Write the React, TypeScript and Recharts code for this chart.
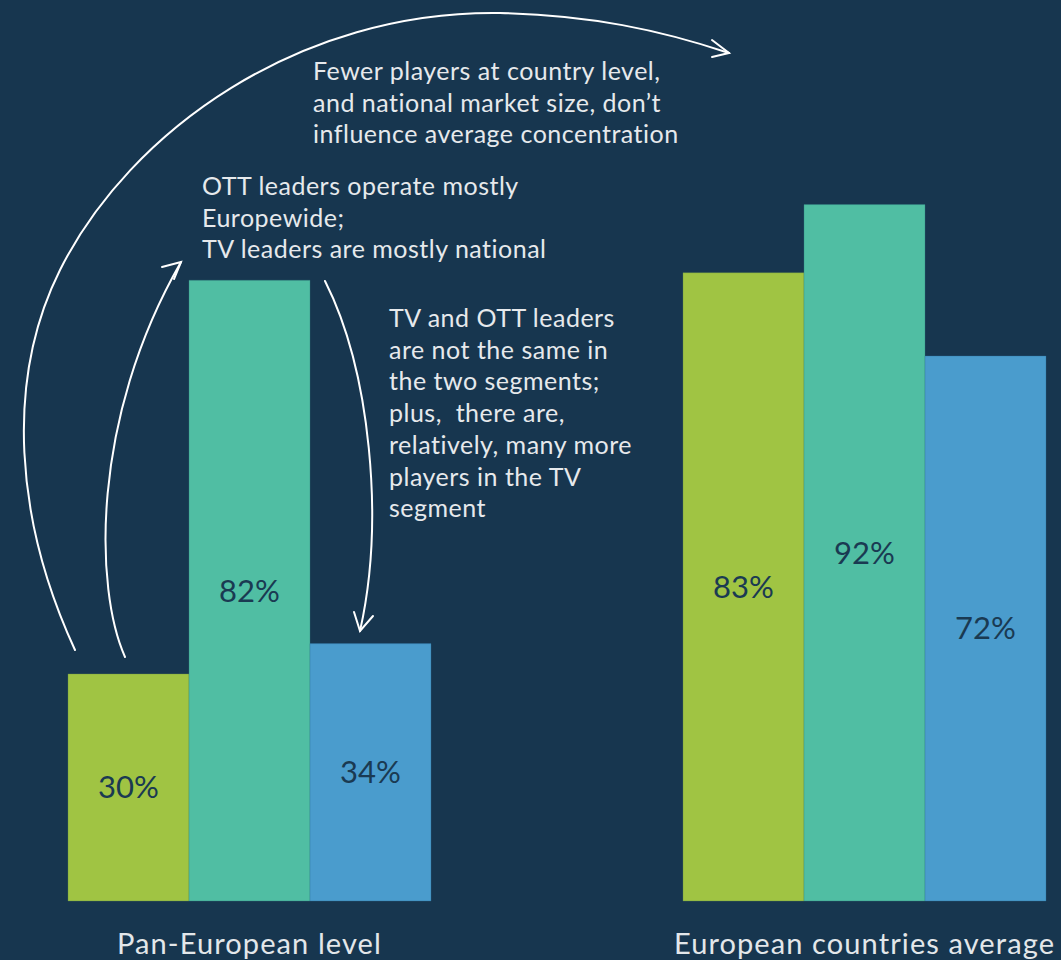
import React from "react";
import { BarChart, Bar, XAxis, YAxis, LabelList } from "recharts";

const categories = ["Pan-European level", "European countries average"];
const greenValues = [30, 83];
const tealValues = [82, 92];
const blueValues = [34, 72];

const noteTop = [
  "Fewer players at country level,",
  "and national market size, don\u2019t",
  "influence average concentration",
];
const noteMiddle = ["OTT leaders operate mostly", "Europewide;", "TV leaders are mostly national"];
const noteRight = [
  "TV and OTT leaders",
  "are not the same in",
  "the two segments;",
  "plus,  there are,",
  "relatively, many more",
  "players in the TV",
  "segment",
];

const data = categories.map((c, i) => ({
  category: c,
  green: greenValues[i],
  teal: tealValues[i],
  blue: blueValues[i],
}));

const BG = "#17364f";
const FONT = "Lato, 'Noto Sans', sans-serif";
const W = 1061;
const H = 960;
// the plot is wider than the page so the two groups sit where they do in the original
const SHIFT = 58;

const CategoryTick = (props: any) => {
  const { x, y, payload } = props;
  return (
    <text
      x={x}
      y={y + 51}
      textAnchor="middle"
      fill="#e3e7ea"
      fontSize={29}
      letterSpacing={1.1}
      fontFamily={FONT}
    >
      {payload.value}
    </text>
  );
};

const Note = ({ x, y, lines }: { x: number; y: number; lines: string[] }) => (
  <text
    x={x}
    y={y}
    fill="#e6e9ec"
    fontSize={25}
    letterSpacing={0.5}
    fontFamily={FONT}
    style={{ whiteSpace: "pre" }}
  >
    {lines.map((l, i) => (
      <tspan key={i} x={x} dy={i === 0 ? 0 : 31.7}>
        {l}
      </tspan>
    ))}
  </text>
);

export default function App() {
  const pct = (v: any) => `${v}%`;
  const labelStyle = { fill: "#1a3a52", fontSize: 31, fontFamily: FONT };
  const arrow = { fill: "none", stroke: "#ffffff", strokeWidth: 2, strokeLinecap: "round" as const };
  return (
    <div style={{ position: "absolute", left: 0, top: 0, width: W, height: H, overflow: "hidden", background: BG }}>
      <div style={{ position: "absolute", left: -SHIFT, top: 0 }}>
        <BarChart
          width={W + 2 * SHIFT + 53}
          height={H}
          data={data}
          margin={{ top: 144, right: 0, bottom: 0, left: 0 }}
          barCategoryGap={126}
          barGap={0}
        >
          <XAxis
            dataKey="category"
            height={59}
            axisLine={false}
            tickLine={false}
            tickSize={0}
            interval={0}
            tick={<CategoryTick />}
          />
          <YAxis hide domain={[0, 100]} />
          <Bar dataKey="green" fill="#a0c443" stroke="#5f8a4a" strokeOpacity={0.35} isAnimationActive={false}>
            <LabelList dataKey="green" position="center" formatter={pct} style={labelStyle} />
          </Bar>
          <Bar dataKey="teal" fill="#50bea3" stroke="#2f7f80" strokeOpacity={0.35} isAnimationActive={false}>
            <LabelList dataKey="teal" position="center" formatter={pct} style={labelStyle} />
          </Bar>
          <Bar dataKey="blue" fill="#4a9ccd" stroke="#2c6e98" strokeOpacity={0.35} isAnimationActive={false}>
            <LabelList dataKey="blue" position="center" formatter={pct} style={labelStyle} />
          </Bar>
        </BarChart>
      </div>
      <svg width={W} height={H} style={{ position: "absolute", left: 0, top: 0, pointerEvents: "none" }}>
        <Note x={313} y={80} lines={noteTop} />
        <Note x={202} y={195} lines={noteMiddle} />
        <Note x={389} y={327} lines={noteRight} />
        {/* big arc */}
        <path d="M75,650 C15,520 5,380 60,270 C130,130 300,10 500,13 C590,15 660,30 729,53" {...arrow} />
        <path d="M712,40 L729,53 L712,57" {...arrow} />
        {/* middle arc */}
        <path d="M125,657 C95,590 90,420 181,262" {...arrow} />
        <path d="M162,267 L181,262 L174,279" {...arrow} />
        {/* right arc */}
        <path d="M325,281 C370,370 385,520 360,631" {...arrow} />
        <path d="M354,612 L360,631 L373,616" {...arrow} />
      </svg>
    </div>
  );
}
